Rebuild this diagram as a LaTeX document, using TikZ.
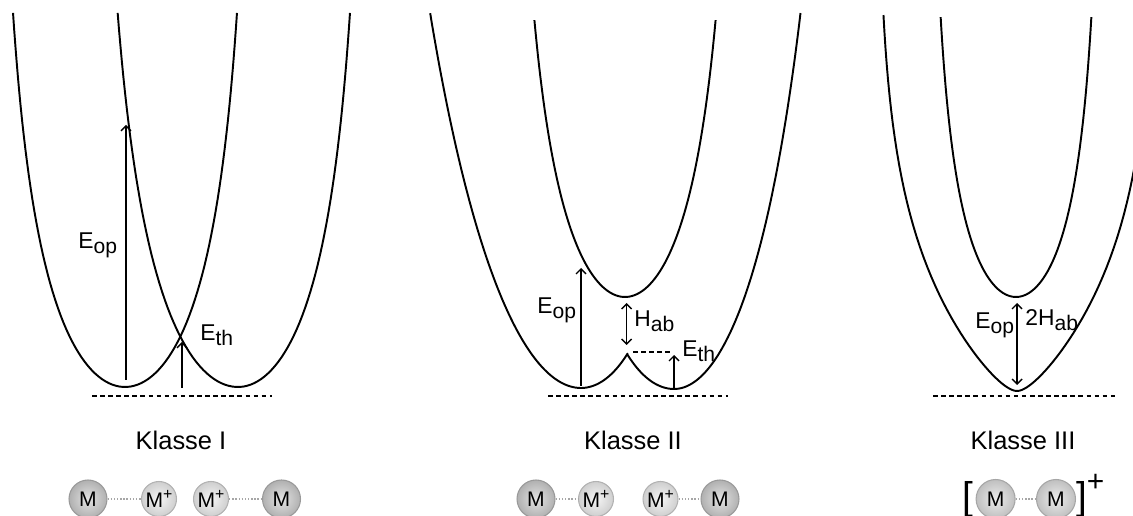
\documentclass[tikz,border=0pt]{standalone}
\usepackage{fontspec}
\setmainfont{Liberation Sans}
\usetikzlibrary{arrows.meta}
\newcommand\lowidx[1]{\raisebox{-2.6pt}{\fontsize{12}{14}\selectfont #1}}
\newcommand\highidx[1]{\raisebox{0.38em}{\fontsize{9}{10}\selectfont #1}}
\tikzset{
  curve/.style={line width=1.1pt,line join=round,samples=90},
  arr/.style={-{Straight Barb[length=1mm,width=2mm]},line width=0.8pt},
  darr/.style={{Straight Barb[length=1mm,width=2mm]}-{Straight Barb[length=1mm,width=2mm]},line width=0.8pt},
  base/.style={dash pattern=on 2.6pt off 2pt,line width=0.9pt},
  lab/.style={anchor=base west,inner sep=0pt,font=\fontsize{13}{15}\selectfont},
  klasse/.style={anchor=base,inner sep=0pt,font=\fontsize{14.5}{17}\selectfont},
  atomM/.style={circle,draw=gray!80,line width=0.6pt,inner sep=0pt,minimum size=0.76cm,shading=radial,inner color=gray!22,outer color=gray!62,font=\fontsize{12}{14}\selectfont},
  atomP/.style={atomM,minimum size=0.70cm,draw=gray!60,inner color=gray!8,outer color=gray!38},
  atomN/.style={atomM,minimum size=0.78cm,draw=gray!70,inner color=gray!15,outer color=gray!50},
  link/.style={densely dotted,gray!70,line width=0.8pt},
  brk/.style={inner sep=0pt,font=\fontsize{22}{24}\selectfont}
}
\begin{document}
\begin{tikzpicture}[x=0.02cm,y=-0.02cm]
\useasboundingbox (0,0) rectangle (1133,516);
\begin{scope}
\clip (0,0) rectangle (1133,516);
% Klasse I: two crossing wells
\draw[curve] plot[domain=-19.34:19.34] ({125+135*tanh(\x/16.3)},{387-\x*\x});
\draw[curve] plot[domain=-19.34:19.34] ({238+(\x<0 ? -150*tanh(-\x/17.5) : 135*tanh(\x/16.3))},{387-\x*\x});
% Klasse II
\draw[curve] plot[domain=-19.36:5.86] ({581+(\x<0 ? -300*tanh(-\x/35) : 135*tanh(\x/16.3))},{388-\x*\x})
  -- plot[domain=-5.86:19.39] ({674+(\x<0 ? -135*tanh(-\x/16.3) : 200*tanh(\x/26))},{389-\x*\x});
\draw[curve] plot[domain=-16.64:16.64] ({625+120*tanh(\x/16.9)},{297-\x*\x});
% Klasse III
\draw[curve] plot[domain=-16.73:16.73] ({1016+90*tanh(\x/13.8)},{297-\x*\x});
\draw[curve] plot[domain=-19.39:19.39] ({1017+(\x<0 ? -1 : 1)*140*tanh(0.03*abs(\x)+0.00344*\x*\x)},{391-\x*\x});
\end{scope}

\foreach \xa/\xb in {92/272,548/728,933/1115}
  \draw[base] (\xa,396) -- (\xb,396);
\coordinate (hl) at (633,352); \coordinate (hr) at (670,352);
\draw[base] (hl) -- (hr);

\foreach \n/\x/\ya/\yb in {opI/126/380/125,thI/182/388/342,opII/581/386/268,thII/674/389/355} {
  \coordinate (\n a) at (\x,\ya); \coordinate (\n b) at (\x,\yb);
  \draw[arr] (\n a) -- (\n b);
}
\foreach \n/\x/\ya/\yb in {hII/626.7/345/303,hIII/1017/385/303} {
  \coordinate (\n a) at (\x,\ya); \coordinate (\n b) at (\x,\yb);
  \draw[darr] (\n a) -- (\n b);
}

\node[lab] (eopI) at (78,249) {E\lowidx{op}};
\node[lab] (ethI) at (200,341) {E\lowidx{th}};
\node[lab] (eopII) at (537,314) {E\lowidx{op}};
\node[lab] (habII) at (634,327) {H\lowidx{ab}};
\node[lab] (ethII) at (682,357) {E\lowidx{th}};
\node[lab] (eopIII) at (975,329) {E\lowidx{op}};
\node[lab] (habIII) at (1025,326) {2H\lowidx{ab}};

\node[klasse] (kI) at (181,450) {Klasse I};
\node[klasse] (kII) at (633,450) {Klasse II};
\node[klasse] (kIII) at (1023,450) {Klasse III};

\node[atomM] (m1) at (88,499) {M};
\node[atomP] (p1) at (159,499) {M\highidx{+}};
\node[atomP] (p2) at (211,499) {M\highidx{+}};
\node[atomM] (m2) at (281.5,499) {M};
\draw[link] (m1) -- (p1);
\draw[link] (p2) -- (m2);

\node[atomM] (m3) at (536,499) {M};
\node[atomP] (p3) at (596,499) {M\highidx{+}};
\node[atomP] (p4) at (660.5,499) {M\highidx{+}};
\node[atomM] (m4) at (720,499) {M};
\draw[link] (m3) -- (p3);
\draw[link] (p4) -- (m4);

\node[atomN] (m5) at (995.6,499) {M};
\node[atomN] (m6) at (1056,499) {M};
\draw[link] (m5) -- (m6);
\node[brk] (lb) at (967.5,500) {[};
\node[brk] (rb) at (1082,500) {]};
\node[brk,font=\fontsize{17}{19}\selectfont] (chg) at (1095.5,483) {+};
\end{tikzpicture}
\end{document}
